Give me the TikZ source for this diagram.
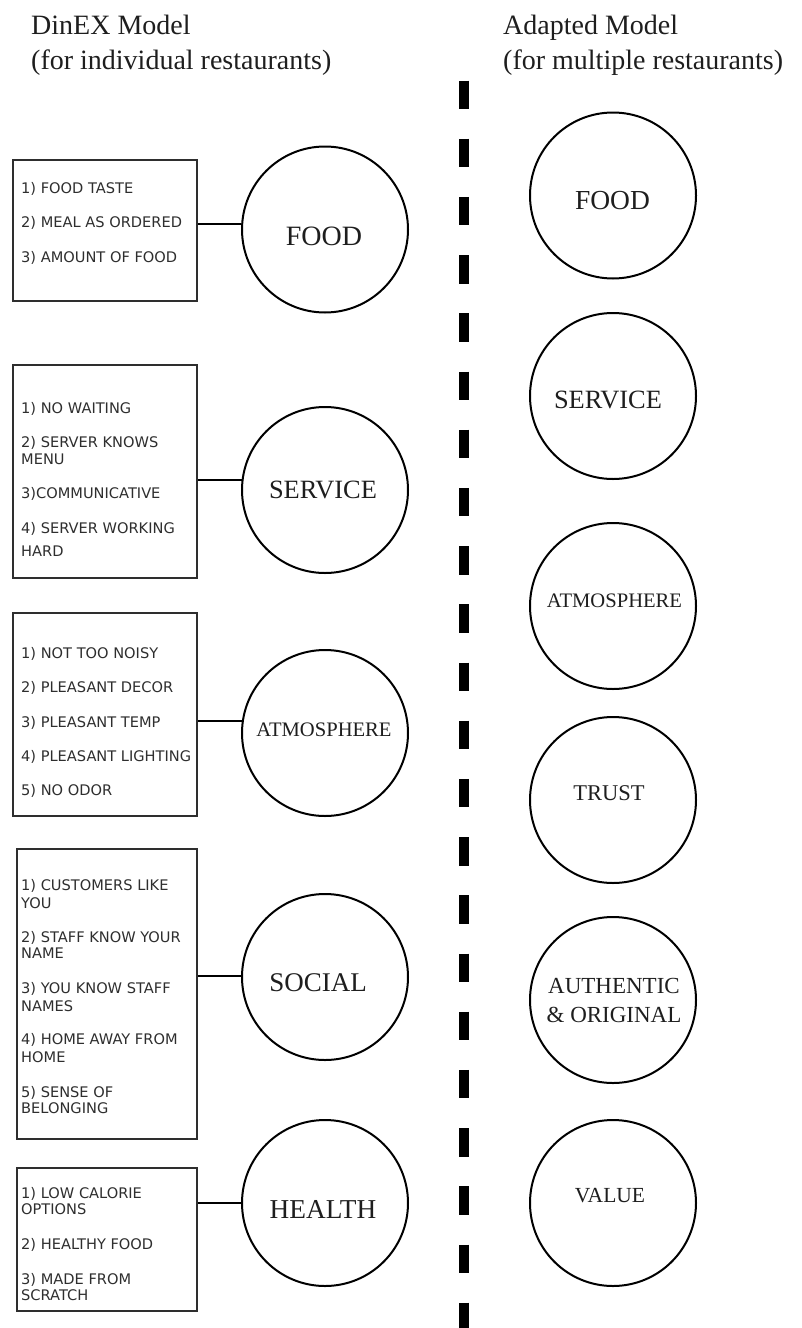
\documentclass[tikz,border=0pt]{standalone}
\usepackage{fontspec}
\setmainfont{Liberation Serif}
\newfontfamily\boxfont{DejaVu Sans}
\definecolor{ink}{HTML}{1E1E1E}
\definecolor{boxink}{HTML}{2E2E2E}
\tikzset{
  circ/.style={circle, draw=black, line width=2pt, minimum size=166pt, inner sep=0pt},
  itembox/.style={rectangle, draw=boxink, line width=2pt, inner sep=0pt},
  item/.style={anchor=base west, inner sep=0pt, text=boxink, font=\boxfont\fontsize{14.6}{17}\selectfont},
  lbl/.style={inner sep=0pt, text=ink},
  conn/.style={line width=2pt, draw=black},
  hdr/.style={anchor=base west, inner sep=0pt, font=\fontsize{28}{34}\selectfont, text=ink},
  divider/.style={line width=10pt, draw=black, dash pattern=on 28.5pt off 29.7pt},
}
\newcommand\fs[1]{\fontsize{#1}{#1}\selectfont}
\begin{document}
\begin{tikzpicture}[x=1pt,y=-1pt]
\useasboundingbox (0,0) rectangle (802,1328);
% headers
\node[hdr] (h1) at (31,34) {DinEX Model};
\node[hdr] (h2) at (31,69) {(for individual restaurants)};
\node[hdr] (h3) at (503,34) {Adapted Model};
\node[hdr] (h4) at (503,69) {(for multiple restaurants)};
% divider
\coordinate (dtop) at (464,80.5);
\coordinate (dbot) at (464,1328);
\draw[divider] (dtop) -- (dbot);
% left boxes
\node[itembox, minimum width=184pt, minimum height=141pt] (b1) at (105,230.5) {};
\node[itembox, minimum width=184pt, minimum height=213pt] (b2) at (105,471.5) {};
\node[itembox, minimum width=184pt, minimum height=203pt] (b3) at (105,714.5) {};
\node[itembox, minimum width=180pt, minimum height=290pt] (b4) at (107,994) {};
\node[itembox, minimum width=180pt, minimum height=143pt] (b5) at (107,1239.5) {};
% box items
\node[item] (b1r1) at (21,193) {1) FOOD TASTE};
\node[item] (b1r2) at (21,227) {2) MEAL AS ORDERED};
\node[item] (b1r3) at (21,262) {3) AMOUNT OF FOOD};
\node[item] (b2r1) at (21,413) {1) NO WAITING};
\node[item] (b2r2) at (21,447) {2) SERVER KNOWS};
\node[item] (b2r3) at (21,464) {MENU};
\node[item] (b2r4) at (21,498) {3)COMMUNICATIVE};
\node[item] (b2r5) at (21,533) {4) SERVER WORKING};
\node[item] (b2r6) at (21,556) {HARD};
\node[item] (b3r1) at (21,658) {1) NOT TOO NOISY};
\node[item] (b3r2) at (21,692) {2) PLEASANT DECOR};
\node[item] (b3r3) at (21,727) {3) PLEASANT TEMP};
\node[item] (b3r4) at (21,761) {4) PLEASANT LIGHTING};
\node[item] (b3r5) at (21,795) {5) NO ODOR};
\node[item] (b4r1) at (21,890) {1) CUSTOMERS LIKE};
\node[item] (b4r2) at (21,908) {YOU};
\node[item] (b4r3) at (21,942) {2) STAFF KNOW YOUR};
\node[item] (b4r4) at (21,958) {NAME};
\node[item] (b4r5) at (21,993) {3) YOU KNOW STAFF};
\node[item] (b4r6) at (21,1011) {NAMES};
\node[item] (b4r7) at (21,1044) {4) HOME AWAY FROM};
\node[item] (b4r8) at (21,1062) {HOME};
\node[item] (b4r9) at (21,1097) {5) SENSE OF};
\node[item] (b4r10) at (21,1113) {BELONGING};
\node[item] (b5r1) at (21,1198) {1) LOW CALORIE};
\node[item] (b5r2) at (21,1214) {OPTIONS};
\node[item] (b5r3) at (21,1249) {2) HEALTHY FOOD};
\node[item] (b5r4) at (21,1284) {3) MADE FROM};
\node[item] (b5r5) at (21,1300) {SCRATCH};
% left circles
\node[circ] (lc1) at (325,229.5) {};
\node[circ] (lc2) at (325,490) {};
\node[circ] (lc3) at (325,733) {};
\node[circ] (lc4) at (325,977) {};
\node[circ] (lc5) at (325,1203) {};
\node[lbl, font=\fs{28}] (lt1) at (324,236) {FOOD};
\node[lbl, font=\fs{26.4}] (lt2) at (323,490) {SERVICE};
\node[lbl, font=\fs{20.6}] (lt3) at (324,730) {ATMOSPHERE};
\node[lbl, font=\fs{27}] (lt4) at (318,983) {SOCIAL};
\node[lbl, font=\fs{27.3}] (lt5) at (323,1209) {HEALTH};
% connectors
\draw[conn] (lc1.176) -- (lc1.176 -| b1.east);
\draw[conn] (lc2.173) -- (lc2.173 -| b2.east);
\draw[conn] (lc3.172) -- (lc3.172 -| b3.east);
\draw[conn] (lc4.179) -- (lc4.179 -| b4.east);
\draw[conn] (lc5.180) -- (lc5.180 -| b5.east);
% right circles
\node[circ] (rc1) at (613,195.5) {};
\node[circ] (rc2) at (613,396) {};
\node[circ] (rc3) at (613,606) {};
\node[circ] (rc4) at (613,800) {};
\node[circ] (rc5) at (613,1000) {};
\node[circ] (rc6) at (613,1203) {};
\node[lbl, font=\fs{27.5}] (rt1) at (612.5,201) {FOOD};
\node[lbl, font=\fs{26.4}] (rt2) at (608,400) {SERVICE};
\node[lbl, font=\fs{20.6}] (rt3) at (614.5,601) {ATMOSPHERE};
\node[lbl, font=\fs{22.5}] (rt4) at (609,793) {TRUST};
\node[lbl, font=\fs{23}, anchor=base] (rt5a) at (614,993) {AUTHENTIC};
\node[lbl, font=\fs{23}, anchor=base] (rt5b) at (614,1022) {\& ORIGINAL};
\node[lbl, font=\fs{21.5}] (rt6) at (610,1196) {VALUE};
\end{tikzpicture}
\end{document}
